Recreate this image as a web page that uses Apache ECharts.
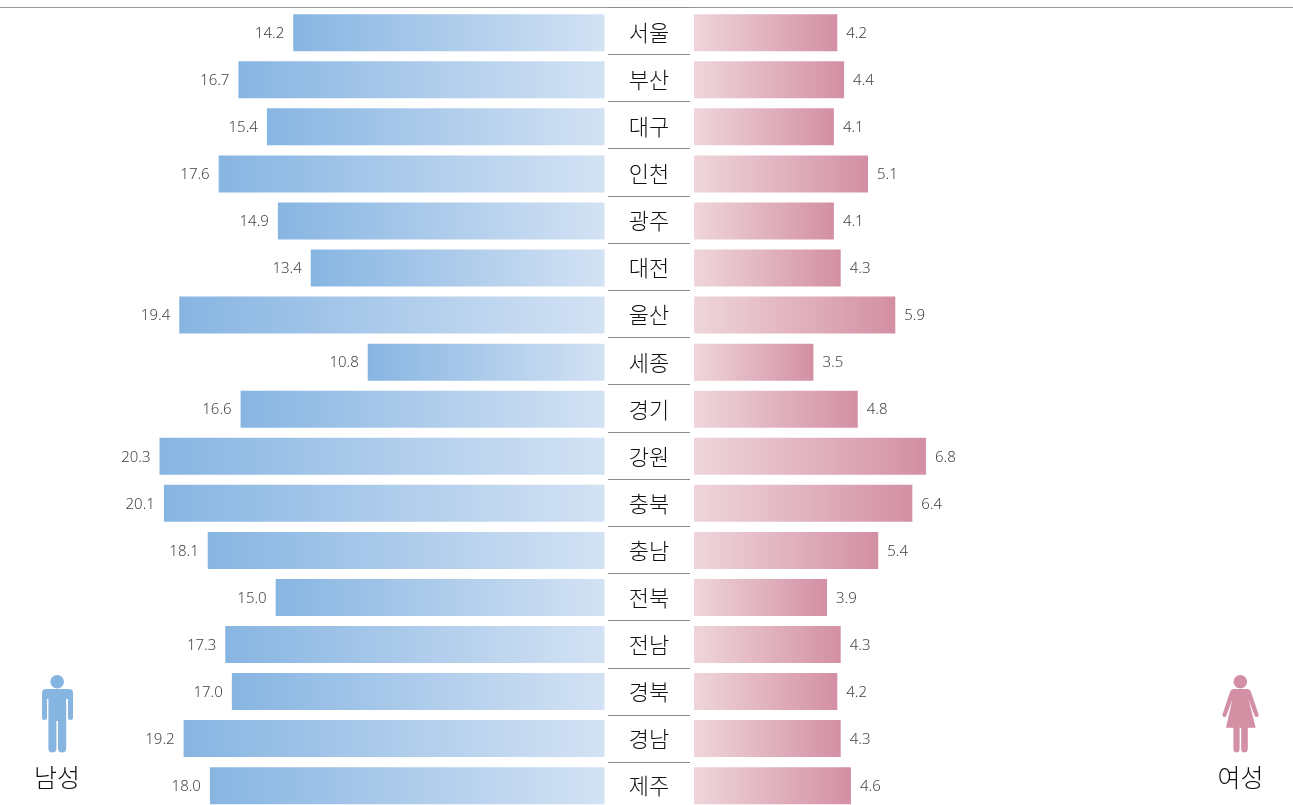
<!DOCTYPE html>
<html><head><meta charset="utf-8">
<style>html,body{margin:0;padding:0;background:#fff}#c{width:1293px;height:805px}</style>
<script src="https://cdn.jsdelivr.net/npm/echarts@6/dist/echarts.min.js"></script>
</head><body><div id="c"></div>
<script>
const regions = ['서울','부산','대구','인천','광주','대전','울산','세종','경기','강원','충북','충남','전북','전남','경북','경남','제주'];
const male = [14.2,16.7,15.4,17.6,14.9,13.4,19.4,10.8,16.6,20.3,20.1,18.1,15.0,17.3,17.0,19.2,18.0];
const female = [4.2,4.4,4.1,5.1,4.1,4.3,5.9,3.5,4.8,6.8,6.4,5.4,3.9,4.3,4.2,4.3,4.6];
const maleLabel = '남성', femaleLabel = '여성';

const KR = '"Noto Sans CJK KR"';
const grad = (a,b)=>({type:'linear',x:0,y:0,x2:1,y2:0,colorStops:[{offset:0,color:a},{offset:1,color:b}]});
echarts.graphic.registerShape('manBody', echarts.graphic.extendPath('M46 689 H69 Q73 689 73 693 V717.5 Q73 720 70.5 720 Q68 720 68 717.5 V699 H66.2 V748.5 Q66.2 752.5 62 752.5 Q58 752.5 58 748.5 V721 H56.4 V748.5 Q56.4 752.5 52.4 752.5 Q48.4 752.5 48.4 748.5 V699 H47 V717.5 Q47 720 44.5 720 Q42 720 42 717.5 V693 Q42 689 46 689 Z'));
echarts.graphic.registerShape('womanBody', echarts.graphic.extendPath('M1234 689 H1247 Q1250 689 1251 692 L1258.6 714.5 Q1259 716.5 1257 717 Q1255.2 717.5 1254.5 715.5 L1248.5 699 L1255.7 727.7 H1247.8 V748.5 Q1247.8 752.5 1244.4 752.5 Q1241.2 752.5 1241.2 748.5 V727.7 H1239.6 V748.5 Q1239.6 752.5 1236.6 752.5 Q1233.4 752.5 1233.4 748.5 V727.7 H1226 L1232.5 699 L1226.5 715.5 Q1225.8 717.5 1224 717 Q1222 716.5 1222.5 714.5 L1230 692 Q1231 689 1234 689 Z'));
const chart = echarts.init(document.getElementById('c'),null,{renderer:'canvas'});
const valLabel = {show:true,distance:9,fontFamily:'"Noto Sans"',fontSize:15,fontWeight:300,color:'#444',offset:[0,1],formatter:p=>p.value.toFixed(1)};
chart.setOption({
  animation:false,
  backgroundColor:'#fff',
  grid:[
    {left:159.5,width:445,top:9.2,height:800,outerBoundsMode:'none'},
    {left:694,width:232,top:9.2,height:800,outerBoundsMode:'none'},
    {left:608,width:82,top:7,height:802.4,outerBoundsMode:'none'}
  ],
  xAxis:[
    {gridIndex:0,type:'value',inverse:true,min:0,max:20.3,show:false},
    {gridIndex:1,type:'value',min:0,max:6.8,show:false},
    {gridIndex:2,type:'value',min:0,max:1,show:false}
  ],
  yAxis:[
    {gridIndex:0,type:'category',inverse:true,data:regions,position:'right',
     axisLine:{show:false},axisTick:{show:false},splitLine:{show:false},
     axisLabel:{margin:44.5,align:'center',fontFamily:KR,fontSize:22,fontWeight:300,color:'#111',padding:[0,0,4,0],interval:0}},
    {gridIndex:1,type:'category',inverse:true,data:regions,show:false},
    {gridIndex:2,type:'category',inverse:true,data:regions,
     axisLine:{show:false},axisTick:{show:false},axisLabel:{show:false},
     splitLine:{show:true,interval:0,lineStyle:{color:'#8c8c8c',width:1}}}
  ],
  series:[
    {type:'bar',xAxisIndex:0,yAxisIndex:0,data:male,barWidth:37,
     itemStyle:{color:grad('#87b5e2','#d3e2f4')},label:{...valLabel,position:'left'}},
    {type:'bar',xAxisIndex:1,yAxisIndex:1,data:female,barWidth:37,
     itemStyle:{color:grad('#efd6db','#d38fa3')},label:{...valLabel,position:'right'}}
  ],
  graphic:[
    {type:'line',silent:true,shape:{x1:0,y1:7.5,x2:1293,y2:7.5},style:{stroke:'#999',lineWidth:1}},
    {type:'circle',silent:true,shape:{cx:57.2,cy:681.7,r:6.8},style:{fill:'#87b5e2'}},
    {type:'manBody',silent:true,style:{fill:'#87b5e2'}},
    {type:'circle',silent:true,shape:{cx:1240.3,cy:681.7,r:6.8},style:{fill:'#d38fa3'}},
    {type:'womanBody',silent:true,style:{fill:'#d38fa3'}},
    {type:'text',silent:true,x:57,y:777,style:{text:maleLabel,fill:'#111',font:'300 25px '+KR,textAlign:'center',textVerticalAlign:'middle'}},
    {type:'text',silent:true,x:1240.5,y:777,style:{text:femaleLabel,fill:'#111',font:'300 25px '+KR,textAlign:'center',textVerticalAlign:'middle'}}
  ]
});
</script></body></html>
